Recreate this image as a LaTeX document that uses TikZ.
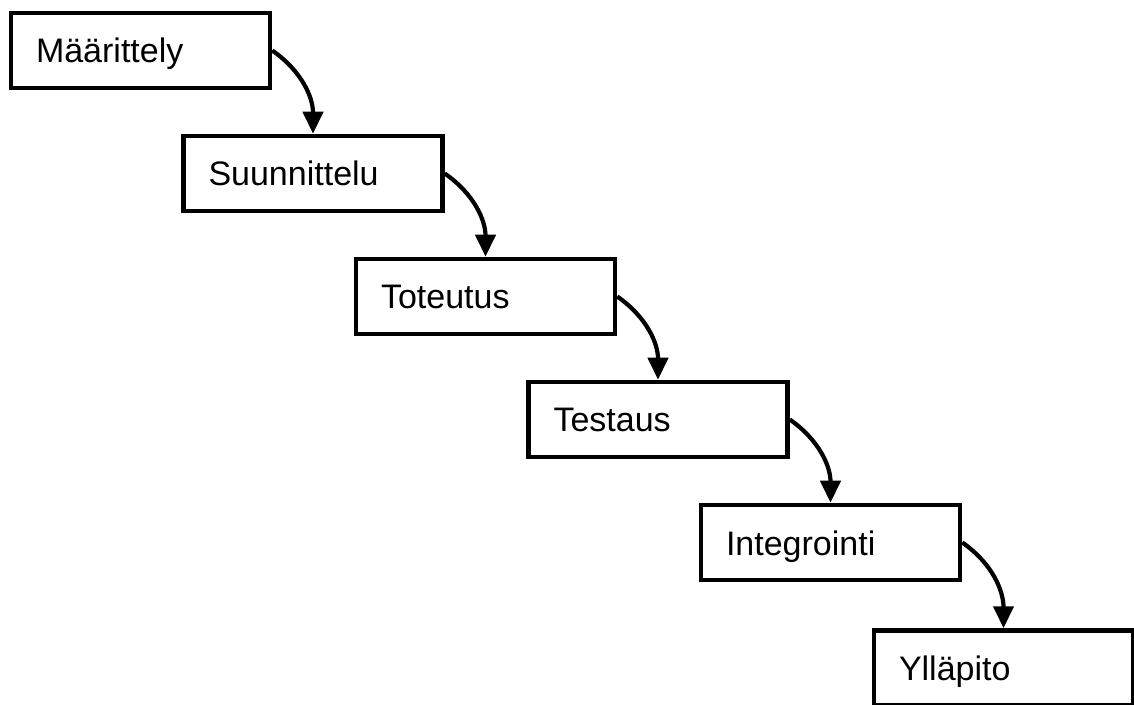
\documentclass[tikz,border=0pt]{standalone}
\usepackage{fontspec}
\setmainfont{Liberation Sans}
\usetikzlibrary{arrows.meta}
\begin{document}
\begin{tikzpicture}[x=1pt,y=1pt,
  stage/.style={draw=black, line width=4.5pt, fill=white, minimum width=259pt, minimum height=75pt,
    text width=209pt, align=left, inner xsep=25pt, inner ysep=0pt,
    text height=25pt, text depth=0pt, font=\fontsize{34}{40}\selectfont},
  flow/.style={line width=4.2pt, -{Triangle[length=22pt,width=20pt]}, out=-35, in=90, looseness=1.0}]
\useasboundingbox (0,0) rectangle (1134,704);
\clip (0,0) rectangle (1134,704);
\node[stage] (a) at (140.5,653.5) {Määrittely};
\node[stage] (b) at (313,530.5) {Suunnittelu};
\node[stage] (c) at (485.5,407.5) {Toteutus};
\node[stage] (d) at (658,284.5) {Testaus};
\node[stage] (e) at (830.5,161.5) {Integrointi};
\node[stage] (f) at (1003.5,36) {Ylläpito};
\draw[flow] (a.east) to (b.north);
\draw[flow] (b.east) to (c.north);
\draw[flow] (c.east) to (d.north);
\draw[flow] (d.east) to (e.north);
\draw[flow] (e.east) to (f.north);
\end{tikzpicture}
\end{document}
